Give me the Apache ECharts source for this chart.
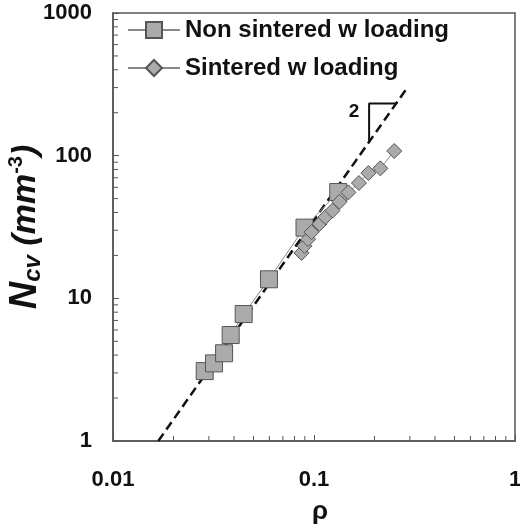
<!DOCTYPE html>
<html>
<head>
<meta charset="utf-8">
<script src="https://cdn.jsdelivr.net/npm/echarts@6/dist/echarts.min.js"></script>
<style>
html,body{margin:0;padding:0;background:#fff;}
#chart{width:520px;height:530px;}
</style>
</head>
<body>
<div id="chart"></div>
<script>
// ---- data ----
var nonSinteredX = [0.0286, 0.0318, 0.0357, 0.0385, 0.0447, 0.0597, 0.0897, 0.132];
var nonSinteredY = [3.09, 3.50, 4.12, 5.53, 7.76, 13.6, 31.3, 55.6];

var sinteredX = [0.0867, 0.0897, 0.0934, 0.0972, 0.1065, 0.114, 0.1236, 0.1339, 0.1483, 0.1673, 0.1864, 0.2138, 0.2508];
var sinteredY = [20.8, 23.3, 26.0, 29.1, 33.2, 37.1, 41.2, 47.5, 55.3, 64.3, 75.5, 81.5, 107.8];

var fitX = [0.0168, 0.287];
var fitY = [1, 291];

var slopeX = [0.188, 0.188, 0.256];
var slopeY = [125, 232, 232];
var slopeLabel = '2';

var xMinorTicks = [0.02,0.03,0.04,0.05,0.06,0.07,0.08,0.09,0.2,0.3,0.4,0.5,0.6,0.7,0.8,0.9];
var yMinorTicks = [2,3,4,5,6,7,8,9,20,30,40,50,60,70,80,90,200,300,400,500,600,700,800,900];

var seriesNames = ['Non sintered w loading', 'Sintered w loading'];

function zip(a, b) { return a.map(function (v, i) { return [v, b[i]]; }); }

var FONT = '"Liberation Sans", Arial, sans-serif';
var chart = echarts.init(document.getElementById('chart'), null, {renderer: 'canvas'});

function tickRenderer(dir) {
  return function (params, api) {
    var p = api.coord([api.value(0), api.value(1)]);
    var x2 = p[0], y2 = p[1];
    if (dir === 'x') { y2 = p[1] - 5; } else { x2 = p[0] + 5; }
    return {
      type: 'line',
      shape: {x1: p[0], y1: p[1], x2: x2, y2: y2},
      style: {stroke: '#555', lineWidth: 1}
    };
  };
}

var option = {
  animation: false,
  backgroundColor: '#fff',
  grid: {
    left: 113, right: 5, top: 13, bottom: 89,
    containLabel: false, outerBoundsMode: 'none',
    show: true, borderColor: '#555', borderWidth: 1.5, backgroundColor: 'transparent'
  },
  legend: {
    data: seriesNames,
    orient: 'vertical',
    left: 127, top: 18,
    padding: 0,
    itemWidth: 52, itemHeight: 20, itemGap: 14,
    textStyle: {fontFamily: FONT, fontWeight: 'bold', fontSize: 24, color: '#111', lineHeight: 24}
  },
  xAxis: {
    type: 'log', logBase: 10, min: 0.01, max: 1,
    name: 'ρ', nameLocation: 'middle', nameGap: 58, nameMoveOverlap: false,
    nameTextStyle: {fontFamily: FONT, fontWeight: 'bold', fontSize: 26, color: '#111', padding: [0, 0, 0, 12]},
    axisLine: {show: true, lineStyle: {color: '#555', width: 1.5}},
    axisTick: {show: true, inside: true, length: 6, lineStyle: {color: '#555'}},
    axisLabel: {fontFamily: FONT, fontWeight: 'bold', fontSize: 22, color: '#111', margin: 28,
      formatter: function (v) { return String(v); }},
    splitLine: {show: false}
  },
  yAxis: {
    type: 'log', logBase: 10, min: 1, max: 1000,
    name: '{n|N}{s|cv}{p| (mm}{e|-3}{p|)}',
    nameLocation: 'middle', nameGap: 68, nameRotate: 90, nameMoveOverlap: false,
    nameTextStyle: {
      rich: {
        n: {fontFamily: FONT, fontWeight: 'bold', fontStyle: 'italic', fontSize: 38, color: '#111'},
        s: {fontFamily: FONT, fontWeight: 'bold', fontStyle: 'italic', fontSize: 24, color: '#111', verticalAlign: 'bottom', padding: [15, 0, 0, 0]},
        p: {fontFamily: FONT, fontWeight: 'bold', fontStyle: 'italic', fontSize: 34, color: '#111'},
        e: {fontFamily: FONT, fontWeight: 'bold', fontSize: 20, color: '#111', verticalAlign: 'top', padding: [0, 0, 17, 0]}
      }
    },
    axisLine: {show: true, lineStyle: {color: '#555', width: 1.5}},
    axisTick: {show: true, inside: true, length: 6, lineStyle: {color: '#555'}},
    axisLabel: {fontFamily: FONT, fontWeight: 'bold', fontSize: 22, color: '#111', margin: 21,
      formatter: function (v) { return String(v); }},
    splitLine: {show: false}
  },
  series: [
    {
      name: 'fit', type: 'line', data: zip(fitX, fitY), showSymbol: false, symbol: 'none',
      lineStyle: {color: '#111', width: 2.5, type: [9, 5]}, silent: true, z: 1
    },
    {
      name: 'slope', type: 'line', data: zip(slopeX, slopeY), symbol: 'none',
      lineStyle: {color: '#111', width: 2}, silent: true, z: 1,
      markPoint: {
        symbol: 'circle', symbolSize: 0,
        data: [{coord: [0.158, 202], value: slopeLabel}],
        label: {show: true, formatter: slopeLabel, fontFamily: FONT, fontWeight: 'bold', fontSize: 19, color: '#111'}
      }
    },
    {
      name: seriesNames[0], type: 'line', data: zip(nonSinteredX, nonSinteredY),
      symbol: 'rect', symbolSize: 17,
      lineStyle: {color: '#8a8a8a', width: 1},
      itemStyle: {color: '#ababab', borderColor: '#555', borderWidth: 1},
      z: 3
    },
    {
      name: seriesNames[1], type: 'line', data: zip(sinteredX, sinteredY),
      symbol: 'diamond', symbolSize: 15,
      lineStyle: {color: '#8a8a8a', width: 1},
      itemStyle: {color: '#ababab', borderColor: '#555', borderWidth: 1},
      z: 4
    },
    {
      name: 'xminor', type: 'custom', silent: true, clip: false, renderItem: tickRenderer('x'),
      data: xMinorTicks.map(function (v) { return [v, 1]; }), z: 5
    },
    {
      name: 'yminor', type: 'custom', silent: true, clip: false, renderItem: tickRenderer('y'),
      data: yMinorTicks.map(function (v) { return [0.01, v]; }), z: 5
    }
  ]
};
chart.setOption(option);
</script>
</body>
</html>
